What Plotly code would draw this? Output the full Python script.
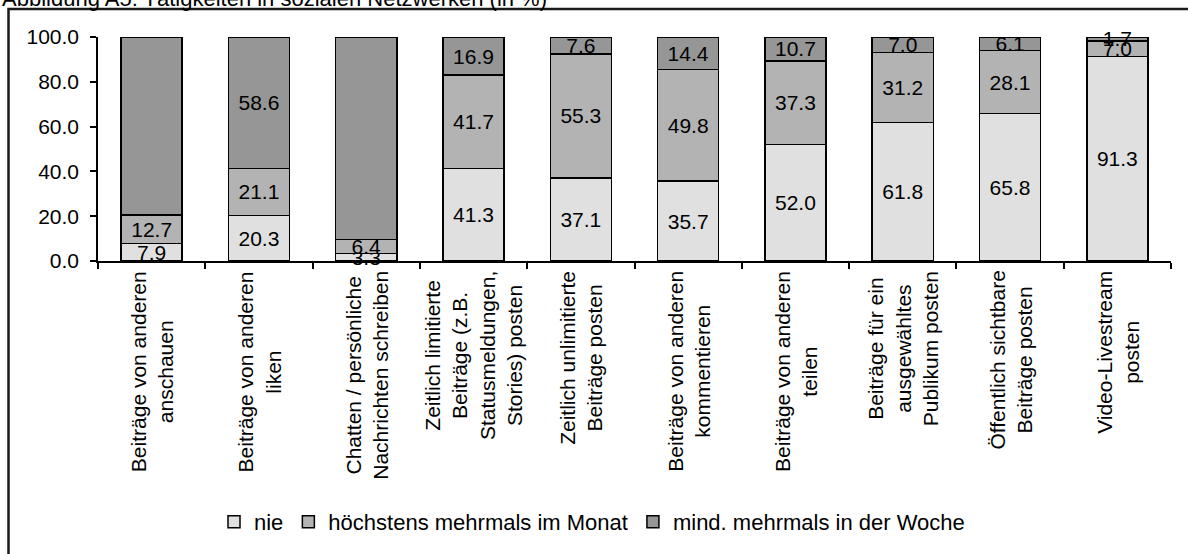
import plotly.graph_objects as go

categories = [
    "Beiträge von anderen anschauen",
    "Beiträge von anderen liken",
    "Chatten / persönliche Nachrichten schreiben",
    "Zeitlich limitierte Beiträge (z.B. Statusmeldungen, Stories) posten",
    "Zeitlich unlimitierte Beiträge posten",
    "Beiträge von anderen kommentieren",
    "Beiträge von anderen teilen",
    "Beiträge für ein ausgewähltes Publikum posten",
    "Öffentlich sichtbare Beiträge posten",
    "Video-Livestream posten",
]
tick_labels = [
    "Beiträge von anderen<br>anschauen",
    "Beiträge von anderen<br>liken",
    "Chatten / persönliche<br>Nachrichten schreiben",
    "Zeitlich limitierte<br>Beiträge (z.B.<br>Statusmeldungen,<br>Stories) posten",
    "Zeitlich unlimitierte<br>Beiträge posten",
    "Beiträge von anderen<br>kommentieren",
    "Beiträge von anderen<br>teilen",
    "Beiträge für ein<br>ausgewähltes<br>Publikum posten",
    "Öffentlich sichtbare<br>Beiträge posten",
    "Video-Livestream<br>posten",
]
nie = [7.9, 20.3, 3.3, 41.3, 37.1, 35.7, 52.0, 61.8, 65.8, 91.3]
hoechstens = [12.7, 21.1, 6.4, 41.7, 55.3, 49.8, 37.3, 31.2, 28.1, 7.0]
mind = [79.5, 58.6, 90.4, 16.9, 7.6, 14.4, 10.7, 7.0, 6.1, 1.7]
series_names = ["nie", "höchstens mehrmals im Monat", "mind. mehrmals in der Woche"]
series_colors = ["#E0E0E0", "#B3B3B3", "#969696"]
title_text = "Abbildung A5: Tätigkeiten in sozialen Netzwerken (in %)"

FONT = "Liberation Sans, Arial, sans-serif"
FS = 21

fig = go.Figure()
for name, vals, col in zip(series_names, [nie, hoechstens, mind], series_colors):
    fig.add_trace(go.Bar(
        x=categories, y=vals, name=name,
        marker=dict(color=col, line=dict(color="black", width=1.5)),
        texttemplate="%{y:.1f}", textposition="inside", insidetextanchor="middle",
        constraintext="none", textangle=0,
        textfont=dict(size=FS, color="black", family=FONT),
        cliponaxis=False,
    ))

W, H = 1188, 554
L, R, T, B = 98, 17, 37, 293
pw, ph = W - L - R, H - T - B

def px_x(px):
    return (px - L) / pw

def px_y(py):
    return 1 - (py - T) / ph

annotations = []
for cat, lab in zip(categories, tick_labels):
    annotations.append(dict(
        x=cat, xref="x", y=px_y(269), yref="paper",
        text=lab, textangle=-90, showarrow=False,
        xanchor="center", yanchor="top", align="center",
        font=dict(size=FS, color="black", family=FONT),
    ))
annotations.append(dict(
    x=px_x(0), xref="paper", y=px_y(-16), yref="paper",
    text=title_text, showarrow=False, xanchor="left", yanchor="top",
    font=dict(size=22, color="black", family=FONT),
))

fig.update_layout(
    width=W, height=H,
    margin=dict(l=L, r=R, t=T, b=B, autoexpand=False),
    paper_bgcolor="white", plot_bgcolor="white",
    barmode="stack", bargap=0.43,
    font=dict(family=FONT, color="black"),
    showlegend=True,
    legend=dict(orientation="h", x=px_x(592), xanchor="center",
                y=px_y(522), yanchor="middle",
                font=dict(size=22, color="black", family=FONT),
                traceorder="normal"),
    annotations=annotations,
    shapes=[dict(type="rect", xref="paper", yref="paper",
                 x0=px_x(8.5), x1=px_x(1250), y0=px_y(9), y1=px_y(620),
                 line=dict(color="#1a1a1a", width=2.5), fillcolor="rgba(0,0,0,0)",
                 layer="below")],
)
fig.update_xaxes(
    type="category", range=[-0.5, 9.5], showticklabels=False,
    ticks="outside", tickson="boundaries", ticklen=6, tickwidth=1.5, tickcolor="black",
    showline=True, linecolor="black", linewidth=2, showgrid=False, zeroline=False,
)
fig.update_yaxes(
    range=[0, 100], dtick=20, tickformat=".1f",
    ticks="outside", ticklen=6, tickwidth=1.5, tickcolor="black",
    showline=True, linecolor="black", linewidth=1.5, showgrid=False, zeroline=False,
    tickfont=dict(size=FS, color="black", family=FONT), ticklabelstandoff=7,
)

fig.write_html(
    "out.html",
    config={"displayModeBar": False},
    post_script="document.body.style.margin='0';document.body.style.overflow='hidden';",
)
